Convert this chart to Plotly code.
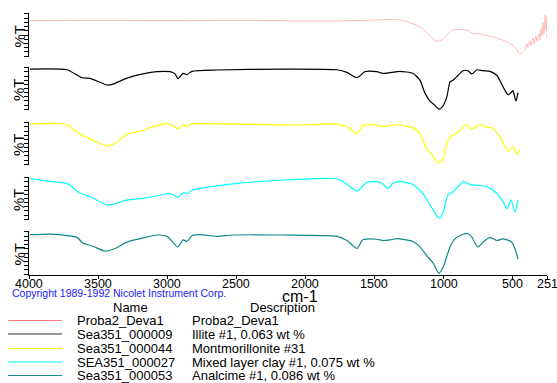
import plotly.graph_objects as go
from plotly.subplots import make_subplots

# ---- data (wavenumber cm-1, relative %T within each panel) ----
wn_proba = [4000, 3500, 3000, 2500, 2000, 1600, 1315, 1170, 1047, 1011, 939, 830, 794, 736, 642, 541, 483, 447,
            410, 396, 389, 374, 367, 352, 345, 331, 323, 309, 302, 294, 287, 280, 273, 265, 258, 255, 251]
t_proba = [84, 84.5, 84, 84.5, 83.5, 84, 85.7, 68.9, 34.8, 38.6, 61.4, 61.4, 54.5, 52.3, 45.5, 34.1, 20.5, 4.5,
           15.9, 29.5, 20.5, 36.4, 25, 43.2, 29.5, 47.7, 34.1, 54.5, 38.6, 65.9, 47.7, 79.5, 52.3, 97.7, 61.4, 93.2, 43.2]

wn_illite = [3993, 3725, 3616, 3559, 3428, 3392, 3291, 3175, 3074, 2980, 2943, 2922, 2885, 2857, 2820, 2639, 2162,
             1771, 1699, 1626, 1568, 1482, 1438, 1337, 1315, 1221, 1170, 1134, 1098, 1062, 1033, 1004, 975, 953, 932,
             896, 859, 823, 794, 758, 714, 664, 613, 569, 533, 504, 497, 476, 461]
t_illite = [97, 95.3, 76, 74.4, 58.1, 60.5, 75.1, 85.3, 90.7, 90.7, 85.3, 73.7, 86.7, 83.7, 91.4, 94.7, 97,
            95.3, 89.1, 76, 90.7, 90.7, 86.7, 90.7, 91.4, 86.7, 69.8, 38.8, 19.3, 9.3, 0, 7.7, 30.9, 65.8, 69.8,
            81.4, 93, 93, 85.3, 95.3, 93, 91.4, 81.4, 54.2, 34.9, 42.6, 44.9, 19.3, 40.2]

wn_mont = [3993, 3797, 3718, 3616, 3537, 3436, 3378, 3291, 3175, 3124, 3030, 2980, 2922, 2885, 2857, 2828, 2524,
           2039, 1771, 1699, 1626, 1583, 1482, 1438, 1387, 1315, 1221, 1170, 1120, 1083, 1062, 1033, 1004, 968, 932,
           881, 845, 823, 794, 736, 686, 649, 591, 533, 497, 468, 454]
t_mont = [97, 98.4, 93.7, 69.8, 58.1, 44.2, 50.5, 72.1, 81.4, 88, 97, 97, 85.3, 95.3, 90.7, 97, 97,
          94.7, 97, 90.7, 73.7, 93, 94.7, 90.7, 93.7, 94.7, 87.7, 73.7, 34.9, 23.3, 11.6, 1.6, 11.6, 58.1, 69.8,
          81.4, 95.3, 93, 85.3, 95.3, 89.1, 87.7, 65.8, 30.9, 42.6, 23.3, 36.5]

wn_mixed = [3993, 3848, 3718, 3645, 3559, 3436, 3378, 3291, 3175, 3103, 2980, 2922, 2885, 2849, 2820, 2524, 2162,
            1800, 1735, 1626, 1554, 1482, 1438, 1402, 1366, 1315, 1221, 1149, 1098, 1047, 1026, 1004, 968, 932, 896,
            859, 808, 736, 678, 613, 569, 541, 512, 483, 461]
t_mixed = [98.4, 91.4, 85.3, 65.8, 54.2, 34.9, 37.2, 46.5, 50.5, 54.2, 62.1, 52.8, 63.5, 62.1, 69.8, 85.3, 94.7,
           98.4, 93, 68.1, 89.1, 90.7, 85.3, 73.7, 86.7, 90.7, 83.7, 62.1, 34.9, 7.7, 2.3, 15.6, 58.1, 65.8, 77.4,
           90.7, 83.7, 81.4, 77.4, 62.1, 42.6, 24.9, 46.5, 17, 46.5]

wn_analc = [3993, 3848, 3776, 3653, 3609, 3537, 3450, 3378, 3291, 3175, 3074, 3001, 2922, 2885, 2857, 2820, 2762,
            2639, 2524, 2162, 1771, 1699, 1626, 1583, 1482, 1438, 1387, 1337, 1315, 1221, 1170, 1120, 1076, 1033,
            1004, 953, 917, 867, 823, 794, 751, 714, 664, 613, 569, 512, 483, 461]
t_analc = [93.2, 94.8, 93.2, 87, 73.4, 65.9, 54.5, 60.7, 75.7, 85.7, 92.5, 89.3, 64.3, 81.1, 77.3, 90.9, 93.2,
           89.3, 92.5, 92.5, 89.3, 79.5, 60.7, 81.1, 82.5, 79.5, 81.1, 84.1, 83.4, 77.3, 64.3, 43.2, 26.6, 2.3,
           15.2, 64.3, 83.4, 93.2, 96.1, 87, 64.3, 75.7, 87, 79.5, 83.4, 77.3, 60.7, 35.7]

names = ["Proba2_Deva1", "Sea351_000009", "Sea351_000044", "SEA351_000027", "Sea351_000053"]
descriptions = ["Proba2_Deva1", "Illite #1, 0.063 wt %", "Montmorillonite #31",
                "Mixed layer clay #1, 0.075 wt %", "Analcime #1, 0.086 wt %"]
x_tick_vals = [4000, 3500, 3000, 2500, 2000, 1500, 1000, 500, 251]
x_tick_text = ["4000", "3500", "3000", "2500", "2000", "1500", "1000", "500", "251"]

line_colors = ["#ffbcbc", "#000000", "#ffff00", "#00ffff", "#128888"]
legend_colors = ["#ff7a7a", "#333333", "#ffff00", "#00ffff", "#128888"]

series = [(wn_proba, t_proba), (wn_illite, t_illite), (wn_mont, t_mont),
          (wn_mixed, t_mixed), (wn_analc, t_analc)]

FONT = "Arial, Liberation Sans, sans-serif"

# plot area in pixels: left 29, right 547, top 12, bottom 275
L, R, T, B = 29, 547, 12, 275
W, H = 557, 383
pw, ph = R - L, B - T

def px(x):
    return (x - L) / pw

def py(y):
    return (B - y) / ph

panels_px = [(13, 57), (67, 110), (122, 165), (177, 220), (231, 275)]

fig = make_subplots(rows=5, cols=1, shared_xaxes=True)
for i, (wn, t) in enumerate(series):
    fig.add_trace(go.Scatter(x=wn, y=t, mode="lines",
                             line=dict(color=line_colors[i], width=1.2 if i else 1.0,
                                       shape="spline", smoothing=0.6),
                             showlegend=False, hoverinfo="skip"), row=i + 1, col=1)

layout_axes = {}
for i, (top, bot) in enumerate(panels_px):
    n = "" if i == 0 else str(i + 1)
    layout_axes["yaxis" + n] = dict(
        domain=[py(bot), py(top)], range=[-2, 102], showgrid=False, zeroline=False,
        showline=True, linecolor="black", linewidth=1, ticks="outside", ticklen=4,
        tickcolor="black", tickmode="linear", tick0=0, dtick=10, showticklabels=False,
        fixedrange=True)
    layout_axes["xaxis" + n] = dict(
        range=[4000, 251], showgrid=False, zeroline=False, showline=(i == 4),
        linecolor="black", linewidth=1, ticks="outside" if i == 4 else "", ticklen=3,
        tickcolor="black", tickmode="array", tickvals=x_tick_vals,
        showticklabels=False, fixedrange=True)

fig.update_layout(**layout_axes)

annotations = []
shapes = []
# x tick labels placed on the data axis of the bottom panel
for v, s in zip(x_tick_vals, x_tick_text):
    annotations.append(dict(text=s, x=v, xref="x5", y=py(283.5), yref="paper", showarrow=False,
                            xanchor="center", yanchor="middle", borderpad=0,
                            font=dict(family=FONT, size=12.5, color="black")))

for i, (top, bot) in enumerate(panels_px):
    annotations.append(dict(text="%T", x=px(18.5), y=py((top + bot) / 2 + 1), xref="paper", yref="paper",
                            textangle=-90, showarrow=False, xanchor="center", yanchor="middle",
                            font=dict(family=FONT, size=15, color="black")))

annotations.append(dict(text="Copyright 1989-1992 Nicolet Instrument Corp.", x=px(11), y=py(293),
                        xref="paper", yref="paper", showarrow=False, xanchor="left", yanchor="middle",
                        borderpad=0, font=dict(family=FONT, size=10.5, color="#1a1aff")))
annotations.append(dict(text="cm-1", x=px(300), y=py(296.5), xref="paper", yref="paper", showarrow=False,
                        xanchor="center", yanchor="middle", borderpad=0,
                        font=dict(family=FONT, size=16, color="black")))
annotations.append(dict(text="Name", x=px(130), y=py(307), xref="paper", yref="paper", showarrow=False,
                        xanchor="center", yanchor="middle", borderpad=0,
                        font=dict(family=FONT, size=13, color="black")))
annotations.append(dict(text="Description", x=px(249), y=py(307), xref="paper", yref="paper", showarrow=False,
                        xanchor="left", yanchor="middle", borderpad=0,
                        font=dict(family=FONT, size=13, color="black")))

row_y = [320.5, 334, 348.5, 362, 375.5]
for i, yy in enumerate(row_y):
    shapes.append(dict(type="line", xref="paper", yref="paper", x0=px(8), x1=px(62), y0=py(yy), y1=py(yy),
                       line=dict(color=legend_colors[i], width=1.2)))
    annotations.append(dict(text=names[i], x=px(76), y=py(yy), xref="paper", yref="paper", showarrow=False,
                            xanchor="left", yanchor="middle", borderpad=0,
                            font=dict(family=FONT, size=13, color="black")))
    annotations.append(dict(text=descriptions[i], x=px(191), y=py(yy), xref="paper", yref="paper",
                            showarrow=False, xanchor="left", yanchor="middle", borderpad=0,
                            font=dict(family=FONT, size=13, color="black")))

fig.update_layout(width=W, height=H, margin=dict(l=L, r=W - R, t=T, b=H - B),
                  paper_bgcolor="white", plot_bgcolor="white",
                  annotations=annotations, shapes=shapes, showlegend=False,
                  font=dict(family=FONT, color="black"))

fig.write_html("out.html", config={"displayModeBar": False},
               post_script="document.body.style.margin='0px';document.body.style.overflow='hidden';")
